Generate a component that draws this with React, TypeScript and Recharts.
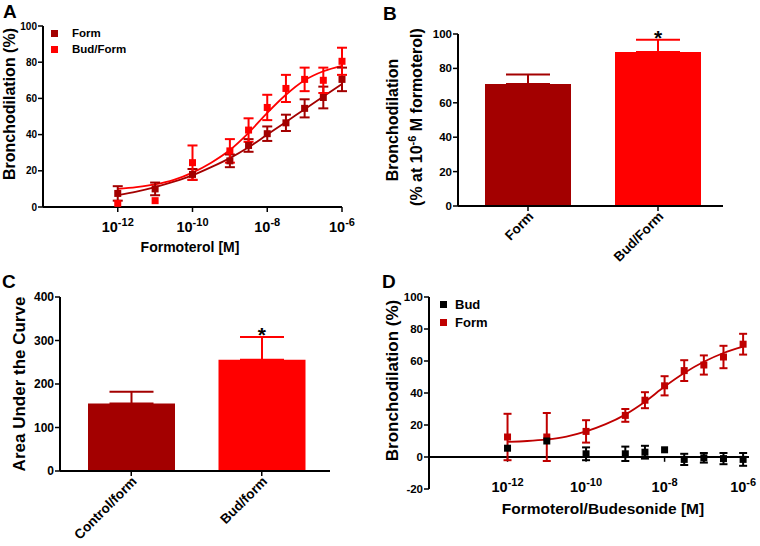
import React from 'react';
import {
  ComposedChart,
  Line,
  Scatter,
  Bar,
  XAxis,
  YAxis,
  ErrorBar,
  Legend,
  Label,
  ReferenceDot,
  ReferenceLine,
} from 'recharts';

const FONT = "'Liberation Sans', Arial, sans-serif";
const DARK = '#a30000';
const BRIGHT = '#ff0000';
const FORM_D = '#bf0000';

// log10 of concentration [M]
const doses = [-12, -11, -10, -9, -8.5, -8, -7.5, -7, -6.5, -6];
const fitDoses = [-12, -11.5, -11, -10.5, -10, -9.5, -9, -8.5, -8, -7.5, -7, -6.5, -6];
const logTicks = [-12, -10, -8, -6];

// A - concentration response
const formA = [7.5, 10, 18, 25.5, 34, 40.5, 46.5, 54.5, 60.5, 70.5];
const formAErr = [4, 3.5, 3, 3.5, 3.5, 4, 4.5, 5, 6, 6.5];
const budFormA = [2, 3.5, 24.5, 31, 42.5, 55, 65.5, 70.5, 70, 80.5];
const budFormAErr = [0, 0, 9.5, 6.5, 6.5, 7, 7.5, 6.5, 7, 7.5];
const formAFit = [6.5, 8.5, 11, 14, 17.5, 22, 27, 33, 40, 47, 54, 61, 68];
const budFormAFit = [10, 11, 12.5, 15, 19, 24.5, 31.5, 41, 52, 62, 70, 75, 78];

// B - response at 1e-6 M
const groupsB = ['Form', 'Bud/Form'];
const valuesB = [71, 89.5];
const errB = [5.5, 7.2];

// C - area under the curve
const groupsC = ['Control/form', 'Bud/form'];
const valuesC = [155, 256];
const errC = [27, 52];

// D - budesonide alone vs formoterol
const budD = [5.5, 10, 2, 2, 3, 4.5, -1.5, -0.5, -1, -1.5];
const budDErr = [0, 0, 4, 4.5, 4, 0, 3.5, 3, 3.5, 4];
const formD = [12.5, 12.5, 16, 26, 35.5, 44.5, 54, 57.5, 62.5, 70.5];
const formDErr = [14.5, 15, 7, 4, 5, 6, 6.5, 6, 7, 6.5];
const formDFit = [9.5, 10, 11, 12.8, 16, 20.5, 26.5, 34.5, 44, 52.5, 59.5, 65, 69];

const pts = (ys: number[], errs: number[]) => doses.map((x, i) => ({ x, y: ys[i], err: errs[i] }));
const fit = (ys: number[]) => fitDoses.map((x, i) => ({ x, y: ys[i] }));
const barRows = (groups: string[], values: number[], errs: number[]) =>
  groups.map((name, i) => ({
    name,
    first: i === 0 ? values[i] : null,
    firstErr: i === 0 ? [0, errs[i]] : null,
    second: i === 1 ? values[i] : null,
    secondErr: i === 1 ? [0, errs[i]] : null,
  }));

const AXIS = { stroke: '#000', strokeWidth: 2 };
const TICK = { stroke: '#000', strokeWidth: 1.5 };
const yTick = (size: number) => ({ fontSize: size, fontWeight: 'bold', fill: '#000', fontFamily: FONT });

const square = (size: number, color: string) => (p: any) =>
  p.cx == null ? <g /> : <rect x={p.cx - size / 2} y={p.cy - size / 2} width={size} height={size} fill={color} />;

const LogTick = ({ x, y, payload, dy }: any) => (
  <text x={x} y={y + dy} textAnchor="middle" fontFamily={FONT} fontWeight="bold" fontSize={14.5} fill="#000">
    10
    <tspan dy={-6} fontSize={11}>
      {payload.value}
    </tspan>
  </text>
);

const SlantTick = ({ x, y, payload }: any) => (
  <text
    x={x + 3}
    y={y + 1}
    dy="0.35em"
    textAnchor="end"
    transform={`rotate(-45 ${x + 3} ${y + 1})`}
    fontFamily={FONT}
    fontWeight="bold"
    fontSize={13.5}
    fill="#000"
  >
    {payload.value}
  </text>
);

const TitleY = ({ x, y, size, children }: any) => (
  <text
    x={x}
    y={y}
    transform={`rotate(-90 ${x} ${y})`}
    textAnchor="middle"
    dy="0.36em"
    fontFamily={FONT}
    fontWeight="bold"
    fontSize={size}
    fill="#000"
  >
    {children}
  </text>
);

const TitleX = ({ x, y, size, children }: any) => (
  <text x={x} y={y} textAnchor="middle" fontFamily={FONT} fontWeight="bold" fontSize={size} fill="#000">
    {children}
  </text>
);

const Star = (p: any) => (
  <text x={p.cx} y={p.cy + 5} textAnchor="middle" fontFamily={FONT} fontWeight="bold" fontSize={21} fill="#000">
    *
  </text>
);

const LegendBox = ({ items, size, rowH, gap }: any) => (
  <div style={{ fontFamily: FONT, fontWeight: 'bold', fontSize: size, color: '#000' }}>
    {items.map((it: any) => (
      <div key={it.name} style={{ display: 'flex', alignItems: 'center', height: rowH }}>
        <span style={{ display: 'inline-block', width: 7, height: 7, background: it.color, marginRight: gap }} />
        <span>{it.name}</span>
      </div>
    ))}
  </div>
);

const legendA = [
  { name: 'Form', color: DARK },
  { name: 'Bud/Form', color: BRIGHT },
];
const legendD = [
  { name: 'Bud', color: '#000' },
  { name: 'Form', color: FORM_D },
];

const PanelA = () => (
  <ComposedChart width={360} height={270} margin={{ top: 26, right: 18, bottom: 0, left: 0 }}>
    <XAxis
      type="number"
      dataKey="x"
      domain={[-14, -6]}
      ticks={logTicks}
      height={63}
      axisLine={AXIS}
      tickLine={TICK}
      tickSize={5}
      tick={(p: any) => <LogTick {...p} dy={18} />}
    >
      <Label content={() => <TitleX x={190} y={252} size={14}>Formoterol [M]</TitleX>} />
    </XAxis>
    <YAxis
      type="number"
      domain={[0, 100]}
      ticks={[0, 20, 40, 60, 80, 100]}
      width={43}
      axisLine={AXIS}
      tickLine={TICK}
      tickSize={5}
      tickMargin={1}
      tick={yTick(10)}
    >
      <Label content={() => <TitleY x={9} y={104} size={16}>Bronchodilation (%)</TitleY>} />
    </YAxis>
    <Legend
      layout="horizontal"
      verticalAlign="middle"
      align="center"
      wrapperStyle={{ left: 51, top: 25, width: 120 }}
      content={() => <LegendBox items={legendA} size={11.5} rowH={16} gap={14} />}
    />
    <Line data={fit(formAFit)} dataKey="y" type="monotone" stroke={DARK} strokeWidth={1.8} dot={false} isAnimationActive={false} />
    <Line data={fit(budFormAFit)} dataKey="y" type="monotone" stroke={BRIGHT} strokeWidth={1.8} dot={false} isAnimationActive={false} />
    <Scatter data={pts(formA, formAErr)} dataKey="y" fill={DARK} shape={square(7, DARK)} isAnimationActive={false}>
      <ErrorBar dataKey="err" direction="y" width={5} strokeWidth={2} stroke={DARK} />
    </Scatter>
    <Scatter data={pts(budFormA, budFormAErr)} dataKey="y" fill={BRIGHT} shape={square(7, BRIGHT)} isAnimationActive={false}>
      <ErrorBar dataKey="err" direction="y" width={5} strokeWidth={2} stroke={BRIGHT} />
    </Scatter>
  </ComposedChart>
);

const PanelB = () => (
  <ComposedChart width={380} height={270} data={barRows(groupsB, valuesB, errB)} margin={{ top: 34, right: 37, bottom: 0, left: 0 }}>
    <XAxis
      type="category"
      dataKey="name"
      height={64}
      padding={{ left: 5, right: 0 }}
      axisLine={AXIS}
      tickLine={TICK}
      tickSize={5}
      interval={0}
      tick={SlantTick}
    />
    <YAxis
      type="number"
      domain={[0, 100]}
      ticks={[0, 20, 40, 60, 80, 100]}
      width={78}
      axisLine={AXIS}
      tickLine={TICK}
      tickSize={5}
      tickMargin={1}
      tick={yTick(11.5)}
    >
      <Label
        content={() => (
          <g>
            <TitleY x={12} y={120} size={16}>Bronchodilation</TitleY>
            <TitleY x={36} y={117} size={16}>
              (% at 10
              <tspan dy={-6} fontSize={11}>
                -6
              </tspan>
              <tspan dy={6}> M formoterol)</tspan>
            </TitleY>
          </g>
        )}
      />
    </YAxis>
    <Bar dataKey="first" stackId="s" fill={DARK} barSize={86} isAnimationActive={false}>
      <ErrorBar dataKey="firstErr" direction="y" width={22} strokeWidth={2} stroke={DARK} />
    </Bar>
    <Bar dataKey="second" stackId="s" fill={BRIGHT} barSize={86} isAnimationActive={false}>
      <ErrorBar dataKey="secondErr" direction="y" width={22} strokeWidth={2} stroke={BRIGHT} />
    </Bar>
    <ReferenceDot x={groupsB[1]} y={valuesB[1] + errB[1]} r={0} shape={Star} />
  </ComposedChart>
);

const PanelC = () => (
  <ComposedChart width={380} height={276} data={barRows(groupsC, valuesC, errC)} margin={{ top: 27, right: 50, bottom: 0, left: 0 }}>
    <XAxis
      type="category"
      dataKey="name"
      height={75}
      padding={{ left: 6, right: 3 }}
      axisLine={AXIS}
      tickLine={TICK}
      tickSize={5}
      interval={0}
      tick={SlantTick}
    />
    <YAxis
      type="number"
      domain={[0, 400]}
      ticks={[0, 100, 200, 300, 400]}
      width={60}
      axisLine={AXIS}
      tickLine={TICK}
      tickSize={5}
      tickMargin={1}
      tick={yTick(12)}
    >
      <Label content={() => <TitleY x={19} y={114} size={17}>Area Under the Curve</TitleY>} />
    </YAxis>
    <Bar dataKey="first" stackId="s" fill={DARK} barSize={87} isAnimationActive={false}>
      <ErrorBar dataKey="firstErr" direction="y" width={22} strokeWidth={2} stroke={DARK} />
    </Bar>
    <Bar dataKey="second" stackId="s" fill={BRIGHT} barSize={87} isAnimationActive={false}>
      <ErrorBar dataKey="secondErr" direction="y" width={22} strokeWidth={2} stroke={BRIGHT} />
    </Bar>
    <ReferenceDot x={groupsC[1]} y={valuesC[1] + errC[1]} r={0} shape={Star} />
  </ComposedChart>
);

const PanelD = () => (
  <ComposedChart width={380} height={276} margin={{ top: 27, right: 11, bottom: 0, left: 0 }}>
    <XAxis
      type="number"
      dataKey="x"
      domain={[-14, -5.85]}
      ticks={logTicks}
      height={57}
      axisLine={false}
      tickLine={false}
      tick={(p: any) => <LogTick {...p} dy={-5} />}
    >
      <Label content={() => <TitleX x={223} y={243.5} size={15.5}>Formoterol/Budesonide [M]</TitleX>} />
    </XAxis>
    <YAxis
      type="number"
      domain={[-20, 100]}
      ticks={[-20, 0, 20, 40, 60, 80, 100]}
      width={49}
      axisLine={AXIS}
      tickLine={TICK}
      tickSize={5}
      tickMargin={1}
      tick={yTick(11.5)}
    >
      <Label content={() => <TitleY x={12} y={110.5} size={17}>Bronchodilation (%)</TitleY>} />
    </YAxis>
    <Legend
      layout="horizontal"
      verticalAlign="middle"
      align="center"
      wrapperStyle={{ left: 59.5, top: 25, width: 120 }}
      content={() => <LegendBox items={legendD} size={13} rowH={18} gap={8.5} />}
    />
    <ReferenceLine y={0} stroke="#000" strokeWidth={2} />
    {logTicks.map((t) => (
      <ReferenceLine key={t} segment={[{ x: t, y: 0 }, { x: t, y: -3 }]} stroke="#000" strokeWidth={1.5} />
    ))}
    <Line data={fit(formDFit)} dataKey="y" type="monotone" stroke={FORM_D} strokeWidth={1.8} dot={false} isAnimationActive={false} />
    <Scatter data={pts(formD, formDErr)} dataKey="y" fill={FORM_D} shape={square(7, FORM_D)} isAnimationActive={false}>
      <ErrorBar dataKey="err" direction="y" width={4} strokeWidth={2} stroke={FORM_D} />
    </Scatter>
    <Scatter data={pts(budD, budDErr)} dataKey="y" fill="#000" shape={square(7, '#000')} isAnimationActive={false}>
      <ErrorBar dataKey="err" direction="y" width={4} strokeWidth={2} stroke="#000" />
    </Scatter>
  </ComposedChart>
);

const letter = (ch: string, left: number, top: number) => (
  <div
    style={{
      position: 'absolute',
      left,
      top,
      fontFamily: FONT,
      fontWeight: 'bold',
      fontSize: 19,
      lineHeight: '19px',
      color: '#000',
    }}
  >
    {ch}
  </div>
);

export default function App() {
  return (
    <div style={{ position: 'absolute', left: 0, top: 0, width: 760, height: 546, background: '#fff' }}>
      <div style={{ position: 'absolute', left: 0, top: 0 }}>
        <PanelA />
      </div>
      <div style={{ position: 'absolute', left: 380, top: 0 }}>
        <PanelB />
      </div>
      <div style={{ position: 'absolute', left: 0, top: 270 }}>
        <PanelC />
      </div>
      <div style={{ position: 'absolute', left: 380, top: 270 }}>
        <PanelD />
      </div>
      {letter('A', 3, 2)}
      {letter('B', 383, 4)}
      {letter('C', 2, 272)}
      {letter('D', 382, 272)}
    </div>
  );
}
